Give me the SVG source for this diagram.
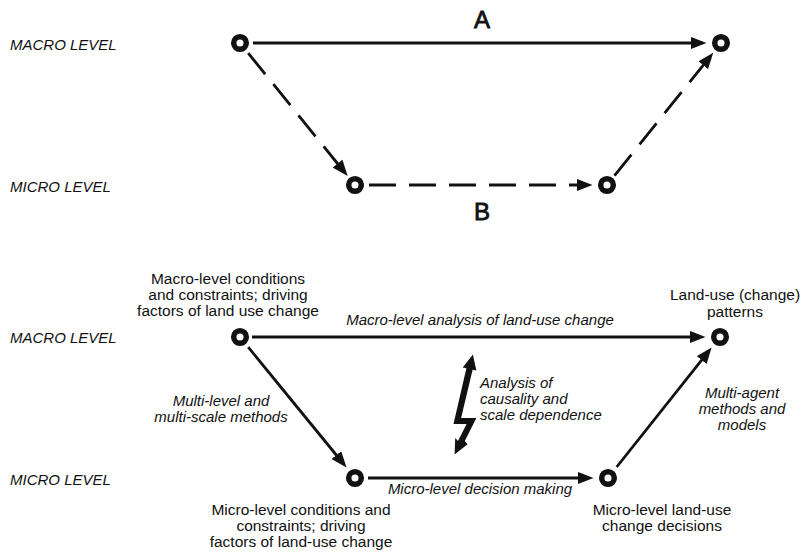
<svg xmlns="http://www.w3.org/2000/svg" width="810" height="554" viewBox="0 0 810 554">
  <style>
    text { font-family: "Liberation Sans", Arial, sans-serif; fill: #111; }
    .lvl { font-size: 15px; font-style: italic; }
    .lbl { font-size: 15.5px; text-anchor: middle; }
    .it { font-size: 15px; font-style: italic; }
    .mid { text-anchor: middle; }
    .big { font-size: 24px; text-anchor: middle; stroke: #111; stroke-width: 0.8; }
    .node { fill: none; stroke: #111; stroke-width: 5.5; }
    .edge { fill: none; stroke: #111; stroke-width: 2.8; marker-end: url(#head); }
    .dash { stroke-dasharray: 27 13; }
  </style>
  <defs>
    <marker id="head" markerUnits="userSpaceOnUse" markerWidth="17" markerHeight="13" refX="0.5" refY="6.25" orient="auto">
      <path d="M0,0 L16,6.25 L0,12.5 z" fill="#111"/>
    </marker>
  </defs>

  <!-- level captions -->
  <g id="levels">
    <text class="lvl" x="10" y="50">MACRO LEVEL</text>
    <text class="lvl" x="10" y="192">MICRO LEVEL</text>
    <text class="lvl" x="10" y="343">MACRO LEVEL</text>
    <text class="lvl" x="10" y="485">MICRO LEVEL</text>
  </g>

  <!-- upper scheme: route A versus route B -->
  <g id="connectors-top">
    <line class="edge" x1="253" y1="43" x2="691" y2="43"/>
    <line class="edge dash" x1="248.2" y1="53.1" x2="337.9" y2="164"/>
    <line class="edge dash" x1="369" y1="185" x2="577" y2="185"/>
    <line class="edge dash" x1="614.5" y1="175.6" x2="703.5" y2="64.8"/>
    <text class="big" x="482" y="28">A</text>
    <text class="big" x="482" y="220">B</text>
  </g>
  <g id="top-macro-start"><circle class="node" cx="240" cy="43" r="6.3"/></g>
  <g id="top-macro-end"><circle class="node" cx="721" cy="43" r="6.3"/></g>
  <g id="top-micro-start"><circle class="node" cx="355" cy="185" r="6.3"/></g>
  <g id="top-micro-end"><circle class="node" cx="607" cy="185" r="6.3"/></g>

  <!-- lower scheme: methods linking the levels -->
  <g id="connectors-bottom">
    <line class="edge" x1="252" y1="337" x2="690" y2="337"/>
    <line class="edge" x1="248.2" y1="347.1" x2="336.7" y2="455.5"/>
    <line class="edge" x1="368" y1="478" x2="578" y2="478"/>
    <line class="edge" x1="616.7" y1="467" x2="702" y2="359.7"/>
    <text class="it mid" x="480" y="325">Macro-level analysis of land-use change</text>
    <text class="it mid" x="221" y="406">Multi-level and</text>
    <text class="it mid" x="221" y="422">multi-scale methods</text>
    <text class="it mid" x="480" y="494">Micro-level decision making</text>
    <text class="it mid" x="742" y="398">Multi-agent</text>
    <text class="it mid" x="742" y="414">methods and</text>
    <text class="it mid" x="742" y="430">models</text>
  </g>

  <!-- zig-zag double arrow between the levels -->
  <g id="causality">
    <path fill="#111" d="M472.9,354.4 L476.3,370.6 L472.6,369.7 L461.1,418 L476.4,418 L464.8,441 L467.6,444.2 L454.6,454.4 L455.2,437.9 L458,441 L466.6,424 L453.5,424 L466.4,368.2 L462.7,367.4 Z"/>
    <text class="it" x="480" y="388">Analysis of</text>
    <text class="it" x="480" y="404">causality and</text>
    <text class="it" x="480" y="420">scale dependence</text>
  </g>

  <g id="macro-conditions">
    <circle class="node" cx="240" cy="337" r="6.3"/>
    <text class="lbl" x="228" y="284">Macro-level conditions</text>
    <text class="lbl" x="228" y="300">and constraints; driving</text>
    <text class="lbl" x="228" y="315.5">factors of land use change</text>
  </g>
  <g id="land-use-patterns">
    <circle class="node" cx="720" cy="337" r="6.3"/>
    <text class="lbl" x="735" y="300">Land-use (change)</text>
    <text class="lbl" x="735" y="317">patterns</text>
  </g>
  <g id="micro-conditions">
    <circle class="node" cx="355" cy="478" r="6.3"/>
    <text class="lbl" x="301" y="515">Micro-level conditions and</text>
    <text class="lbl" x="301" y="531">constraints; driving</text>
    <text class="lbl" x="301" y="547">factors of land-use change</text>
  </g>
  <g id="micro-decisions">
    <circle class="node" cx="608" cy="478" r="6.3"/>
    <text class="lbl" x="662" y="515">Micro-level land-use</text>
    <text class="lbl" x="662" y="531">change decisions</text>
  </g>
</svg>
